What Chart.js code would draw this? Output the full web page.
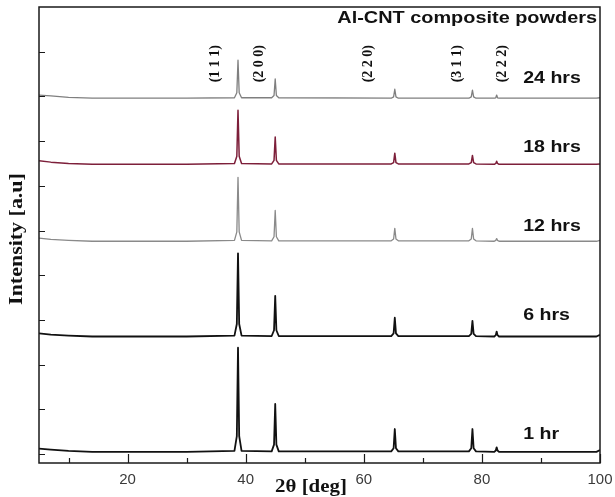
<!DOCTYPE html>
<html>
<head>
<meta charset="utf-8">
<script src="https://cdn.jsdelivr.net/npm/chart.js@4.4.1/dist/chart.umd.min.js"></script>
<style>
  html, body { margin: 0; padding: 0; background: #fff; }
  #xrd { display: block; }
</style>
</head>
<body>
<canvas id="xrd" width="615" height="497"></canvas>
<script>
// 2theta positions (deg) shared by every pattern
const twoTheta = [5, 7, 10, 14, 20, 30,
  38.1, 38.5, 38.7, 38.9, 39.3,
  44.4, 44.8, 45.0, 45.2, 45.6,
  64.65, 65.05, 65.25, 65.45, 65.85,
  77.8, 78.2, 78.4, 78.6, 79.0,
  82.1, 82.35, 82.5, 82.65, 82.9,
  99.4, 100];

// intensities (a.u., patterns already stacked)
const hr1 = [0.12, 0.10, 0.07, 0.05, 0.05, 0.05,
  0.07, 0.40, 2.38, 0.40, 0.07,
  0.06, 0.21, 1.12, 0.21, 0.06,
  0.06, 0.13, 0.56, 0.13, 0.06,
  0.06, 0.13, 0.56, 0.13, 0.06,
  0.05, 0.08, 0.15, 0.08, 0.05,
  0.05, 0.09];
const hr6 = [2.70, 2.67, 2.65, 2.63, 2.63, 2.63,
  2.65, 2.91, 4.49, 2.91, 2.65,
  2.64, 2.77, 3.54, 2.77, 2.64,
  2.64, 2.70, 3.05, 2.70, 2.64,
  2.64, 2.69, 2.98, 2.69, 2.64,
  2.63, 2.66, 2.74, 2.66, 2.63,
  2.63, 2.67];
const hr12 = [4.83, 4.80, 4.78, 4.76, 4.76, 4.76,
  4.78, 4.97, 6.19, 4.97, 4.78,
  4.77, 4.86, 5.45, 4.86, 4.77,
  4.77, 4.81, 5.05, 4.81, 4.77,
  4.77, 4.81, 5.05, 4.81, 4.77,
  4.76, 4.78, 4.82, 4.78, 4.76,
  4.76, 4.78];
const hr18 = [6.56, 6.53, 6.50, 6.48, 6.48, 6.48,
  6.50, 6.66, 7.69, 6.66, 6.50,
  6.49, 6.57, 7.09, 6.57, 6.49,
  6.49, 6.52, 6.73, 6.52, 6.49,
  6.49, 6.52, 6.68, 6.52, 6.49,
  6.48, 6.50, 6.55, 6.50, 6.48,
  6.48, 6.49];
const hr24 = [8.03, 8.01, 7.98, 7.96, 7.96, 7.96,
  7.97, 8.08, 8.81, 8.08, 7.97,
  7.97, 8.02, 8.39, 8.02, 7.97,
  7.96, 7.99, 8.16, 7.99, 7.96,
  7.96, 7.99, 8.14, 7.99, 7.96,
  7.96, 7.97, 8.03, 7.97, 7.96,
  7.96, 7.97];

const seriesNames = ['1 hr', '6 hrs', '12 hrs', '18 hrs', '24 hrs'];
const millerLabels = ['(1 1 1)', '(2 0 0)', '(2 2 0)', '(3 1 1)', '(2 2 2)'];
const xTickValues = [10, 20, 30, 40, 50, 60, 70, 80, 90, 100];
const yTickValues = [0, 1, 2, 3, 4, 5, 6, 7, 8, 9];

const SANS = '"Liberation Sans", Arial, sans-serif';
const SERIF = '"Liberation Serif", "Times New Roman", serif';

function pts(ys) {
  return twoTheta.map((x, i) => ({ x: x, y: ys[i] }));
}

// text with a horizontal stretch, optionally rotated
function stretchText(ctx, txt, x, y, sx, rot, align) {
  ctx.save();
  ctx.translate(x, y);
  ctx.rotate(rot);
  ctx.scale(sx, 1);
  ctx.textAlign = align;
  ctx.textBaseline = 'middle';
  ctx.fillText(txt, 0, 0);
  ctx.restore();
}

const decor = {
  id: 'decor',
  afterDraw(chart) {
    const ctx = chart.ctx;
    const a = chart.chartArea;
    const xs = chart.scales.x, ys = chart.scales.y;
    ctx.save();

    // frame
    ctx.strokeStyle = '#1a1a1a';
    ctx.lineWidth = 1.5;
    ctx.strokeRect(a.left, a.top, a.right - a.left, a.bottom - a.top);

    // inward ticks
    ctx.lineWidth = 1.2;
    ctx.beginPath();
    yTickValues.forEach(v => {
      const py = Math.round(ys.getPixelForValue(v)) + 0.5;
      ctx.moveTo(a.left, py);
      ctx.lineTo(a.left + 6, py);
    });
    xTickValues.forEach(v => {
      const px = Math.round(xs.getPixelForValue(v)) + 0.5;
      const len = v % 20 === 0 ? 9 : 5;
      ctx.moveTo(px, a.bottom);
      ctx.lineTo(px, a.bottom - len);
    });
    ctx.stroke();

    ctx.fillStyle = '#111';

    // title
    ctx.font = 'bold 17px ' + SANS;
    stretchText(ctx, 'Al-CNT composite powders', a.right - 3, 18, 1.17, 0, 'right');

    // series labels
    const labY = [0.45, 3.10, 5.09, 6.86, 8.41];
    ctx.font = 'bold 17px ' + SANS;
    seriesNames.forEach((s, i) => {
      stretchText(ctx, s, xs.getPixelForValue(87), ys.getPixelForValue(labY[i]), 1.15, 0, 'left');
    });

    // miller indices
    const millerX = [34.8, 42.4, 60.7, 75.8, 83.4];
    ctx.font = 'bold 14px ' + SERIF;
    millerLabels.forEach((m, i) => {
      stretchText(ctx, m, xs.getPixelForValue(millerX[i]), 45, 1.0, -Math.PI / 2, 'right');
    });

    // axis titles
    ctx.font = 'bold 18px ' + SERIF;
    stretchText(ctx, 'Intensity [a.u]', 17, 239, 1.22, -Math.PI / 2, 'center');
    ctx.font = 'bold 19px ' + SERIF;
    stretchText(ctx, '2\u03b8 [deg]', 311, 487, 1.1, 0, 'center');

    ctx.restore();
  }
};

const ctxX = document.getElementById('xrd');
const xrdChart = new Chart(ctxX, {
  type: 'line',
  data: {
    datasets: [
      { label: seriesNames[0], data: pts(hr1), borderColor: '#111111', borderWidth: 1.8 },
      { label: seriesNames[1], data: pts(hr6), borderColor: '#111111', borderWidth: 1.8 },
      { label: seriesNames[2], data: pts(hr12), borderColor: '#8a8a8a', borderWidth: 1.3 },
      { label: seriesNames[3], data: pts(hr18), borderColor: '#7d1f3a', borderWidth: 1.5 },
      { label: seriesNames[4], data: pts(hr24), borderColor: '#7f7f7f', borderWidth: 1.3 }
    ]
  },
  options: {
    responsive: false,
    animation: false,
    layout: { padding: { left: 39, right: 15, top: 7, bottom: 0 } },
    elements: {
      point: { radius: 0 },
      line: { tension: 0, borderJoinStyle: 'round' }
    },
    plugins: {
      legend: { display: false },
      tooltip: { enabled: false }
    },
    scales: {
      x: {
        type: 'linear',
        min: 5,
        max: 100,
        afterBuildTicks: (scale) => { scale.ticks = xTickValues.map(v => ({ value: v })); },
        // let the layout padding alone decide the plot edges
        afterFit: (scale) => { scale.paddingLeft = 0; scale.paddingRight = 0; },
        grid: { display: false, drawTicks: false },
        border: { display: false },
        ticks: {
          autoSkip: false,
          maxRotation: 0,
          padding: 8,
          color: '#3a3a3a',
          font: { family: SANS, size: 15 },
          callback: (v) => (v % 20 === 0 ? String(v) : '')
        }
      },
      y: {
        min: -0.2,
        max: 10,
        display: false
      }
    }
  },
  plugins: [decor]
});
</script>
</body>
</html>
